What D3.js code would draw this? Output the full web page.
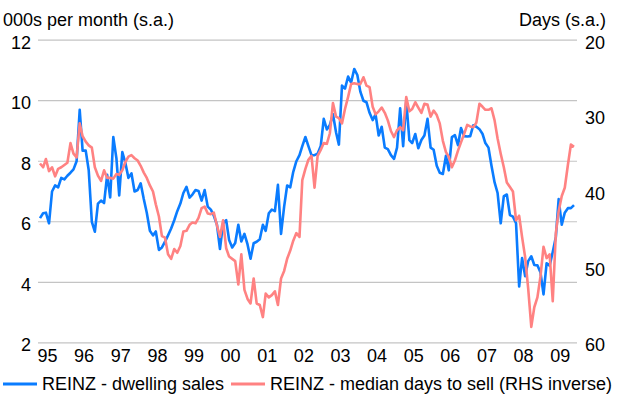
<!DOCTYPE html>
<html>
<head>
<meta charset="utf-8">
<script src="https://cdn.jsdelivr.net/npm/d3@7"></script>
<style>
  html, body { margin: 0; padding: 0; background: #fff; }
  svg { display: block; }
  text { font-family: "Liberation Sans", Arial, sans-serif; fill: #000; }
</style>
</head>
<body>
<svg id="chart" width="632" height="401"></svg>
<script>
// Monthly series, January 1995 onwards
const firstMonth = [1995, 0];

// REINZ dwelling sales, 000s per month (s.a.) - left axis
const dwellingSales = [
  6.12, 6.28, 6.30, 5.95, 7.00, 7.20, 7.14, 7.45, 7.40, 7.52, 7.62, 7.73,
  8.00, 9.70, 8.35, 8.35, 7.70, 6.00, 5.67, 6.60, 6.70, 6.62, 7.55, 6.80,
  8.80, 8.10, 6.87, 8.30, 7.95, 7.45, 7.60, 7.00, 7.05, 7.27, 6.75, 6.30,
  5.70, 5.55, 5.68, 5.07, 5.15, 5.34, 5.55, 5.78, 6.05, 6.35, 6.60, 6.95,
  7.15, 6.80, 6.90, 7.05, 7.02, 6.70, 7.05, 6.50, 6.40, 6.20, 5.90, 5.10,
  5.95, 6.05, 5.40, 5.15, 5.30, 5.90, 5.35, 5.60, 5.25, 4.78, 5.29, 5.34,
  5.42, 5.90, 5.70, 6.28, 6.40, 6.35, 7.22, 5.60, 6.50, 7.20, 7.14, 7.65,
  8.00, 8.20, 8.50, 8.80, 8.50, 8.20, 8.20, 8.25, 8.50, 9.40, 9.05, 9.20,
  9.55, 8.95, 8.55, 10.50, 10.40, 10.80, 10.60, 11.05, 10.85, 10.30, 10.00, 9.95,
  9.60, 9.36, 9.55, 8.85, 9.14, 8.45, 8.40, 8.20, 8.08, 8.45, 9.75, 8.50,
  10.00, 8.70, 8.60, 8.90, 8.43, 8.70, 8.85, 9.40, 8.45, 8.38, 7.85, 7.62,
  7.58, 8.18, 7.70, 8.80, 8.86, 8.53, 9.10, 8.83, 8.82, 8.83, 9.19, 9.14,
  9.06, 8.90, 8.60, 8.45, 7.85, 7.30, 6.95, 5.95, 6.85, 6.90, 6.22, 6.17,
  5.95, 3.86, 4.80, 4.20, 4.70, 4.86, 4.57, 4.56, 4.32, 3.60, 4.63, 4.55,
  5.00, 5.50, 6.75, 5.90, 6.30, 6.45, 6.45, 6.55
];

// REINZ median days to sell (s.a.) - right axis, inverted
const medianDaysToSell = [
  36.3, 36.8, 35.7, 37.3, 36.8, 38.0, 37.0, 36.8, 36.5, 36.2, 33.6, 35.0,
  35.5, 31.0, 32.7, 33.4, 33.9, 34.2, 36.8, 37.9, 38.6, 37.2, 38.2, 38.2,
  38.3, 37.7, 37.8, 37.2, 36.1, 35.4, 35.2, 35.6, 35.9, 36.6, 37.5, 38.2,
  39.2, 40.0, 41.7, 43.3, 45.9, 46.1, 48.3, 48.9, 47.6, 48.1, 47.2, 45.3,
  45.2, 44.4, 44.1, 44.2, 43.5, 42.2, 42.0, 42.9, 43.0, 42.8, 44.5, 46.0,
  43.8, 47.5, 48.6, 48.9, 49.2, 52.3, 48.3, 53.0, 54.2, 54.8, 51.5, 54.8,
  55.0, 56.6, 53.5, 54.0, 53.7, 53.2, 55.0, 51.5, 50.5, 48.9, 47.8, 46.5,
  45.5, 46.0, 38.5, 37.0, 35.8, 35.3, 39.5, 35.3, 34.5, 33.6, 33.7, 32.3,
  28.3, 30.1, 30.3, 31.0, 29.1, 27.5, 25.8, 25.7, 25.8, 25.8, 24.9, 26.0,
  26.2, 28.8, 29.8, 29.4, 28.9, 29.6, 30.6, 32.0, 32.8, 31.9, 31.5, 31.9,
  27.5, 29.4, 29.1, 28.2, 28.9, 29.6, 28.4, 28.5, 30.1, 29.3, 29.9, 31.0,
  33.3, 34.8, 35.4, 36.8, 35.9, 34.6, 33.5, 32.4, 31.2, 31.4, 31.5, 30.9,
  28.4, 28.8, 29.2, 29.2, 29.0, 30.6, 33.0, 35.0, 36.8, 38.8, 39.4, 40.0,
  43.8, 43.2, 46.0, 48.7, 52.8, 57.9, 55.3, 54.0, 51.2, 47.3, 48.8, 48.3,
  54.5, 45.5, 42.6, 40.6, 39.5, 36.5, 33.8, 34.1
];

const leftTicks = [2, 4, 6, 8, 10, 12];
const rightTicks = [20, 30, 40, 50, 60];
const yearLabels = ["95","96","97","98","99","00","01","02","03","04","05","06","07","08","09"];

const leftTitle = "000s per month (s.a.)";
const rightTitle = "Days (s.a.)";
const seriesNames = ["REINZ - dwelling sales", "REINZ - median days to sell (RHS inverse)"];
const seriesColors = ["#0a7cff", "#ff8282"];

const fontFamily = "'Liberation Sans', Arial, sans-serif";
const fontSize = "18px";

const svg = d3.select("#chart");

const months = dwellingSales.map((_, i) => new Date(firstMonth[0], firstMonth[1] + i, 1));
const plot = { left: 38, right: 577, top: 40.2, bottom: 342.8 };

const x = d3.scaleTime()
  .domain([months[0], months[months.length - 1]])
  .range([40, 574]);

const yL = d3.scaleLinear().domain([2, 12]).range([plot.bottom, plot.top]);
const yR = d3.scaleLinear().domain([20, 60]).range([plot.top, plot.bottom]);

function styleText(sel) {
  sel.style("font-size", fontSize)
    .style("font-family", fontFamily)
    .attr("fill", "#000");
}

// Horizontal gridlines at the left-axis ticks
svg.append("g")
  .selectAll("line")
  .data(leftTicks)
  .join("line")
  .attr("x1", plot.left).attr("x2", plot.right)
  .attr("y1", d => yL(d)).attr("y2", d => yL(d))
  .attr("stroke", "#c4c4c4")
  .attr("stroke-width", 1.2);

// Left axis
const axisL = svg.append("g")
  .attr("transform", "translate(31,0)")
  .call(d3.axisLeft(yL).tickValues(leftTicks).tickSize(0).tickPadding(0).tickFormat(d3.format("d")));
axisL.select(".domain").remove();
axisL.selectAll("text").call(styleText).attr("dy", "0.45em");

// Right axis (inverted days)
const axisR = svg.append("g")
  .attr("transform", "translate(585,0)")
  .call(d3.axisRight(yR).tickValues(rightTicks).tickSize(0).tickPadding(0).tickFormat(d3.format("d")));
axisR.select(".domain").remove();
axisR.selectAll("text").call(styleText).attr("dy", "0.45em");

// Bottom axis: two-digit years at each January
const yearStarts = yearLabels.map((_, i) => new Date(firstMonth[0] + i, 0, 1));
const axisB = svg.append("g")
  .attr("transform", `translate(0,${plot.bottom})`)
  .call(d3.axisBottom(x).tickValues(yearStarts).tickSize(0).tickPadding(0)
    .tickFormat((d, i) => yearLabels[i]));
axisB.select(".domain").remove();
axisB.selectAll("text").call(styleText)
  .attr("text-anchor", "start")
  .attr("dx", "-3")
  .attr("dy", "0")
  .attr("y", 19);

// Axis titles
svg.append("text")
  .attr("x", 3).attr("y", 26)
  .call(styleText)
  .text(leftTitle);
svg.append("text")
  .attr("x", 606).attr("y", 26)
  .attr("text-anchor", "end")
  .call(styleText)
  .text(rightTitle);

// Series lines
const lineL = d3.line()
  .x((d, i) => x(months[i]))
  .y(d => yL(d));
const lineR = d3.line()
  .x((d, i) => x(months[i]))
  .y(d => yR(d));

svg.append("path")
  .datum(dwellingSales)
  .attr("d", lineL)
  .attr("fill", "none")
  .attr("stroke", seriesColors[0])
  .attr("stroke-width", 2.6)
  .attr("stroke-linejoin", "round");

svg.append("path")
  .datum(medianDaysToSell)
  .attr("d", lineR)
  .attr("fill", "none")
  .attr("stroke", seriesColors[1])
  .attr("stroke-width", 2.6)
  .attr("stroke-linejoin", "round");

// Legend
const legendItems = [
  { name: seriesNames[0], color: seriesColors[0], x: 3 },
  { name: seriesNames[1], color: seriesColors[1], x: 231 }
];
const legend = svg.append("g").attr("transform", "translate(0,384)");
const li = legend.selectAll("g").data(legendItems).join("g")
  .attr("transform", d => `translate(${d.x},0)`);
li.append("line")
  .attr("x1", 0).attr("x2", 34)
  .attr("y1", 0).attr("y2", 0)
  .attr("stroke", d => d.color)
  .attr("stroke-width", 3);
li.append("text")
  .attr("x", 39).attr("y", 0)
  .attr("dy", "0.36em")
  .call(styleText)
  .text(d => d.name);
</script>
</body>
</html>
